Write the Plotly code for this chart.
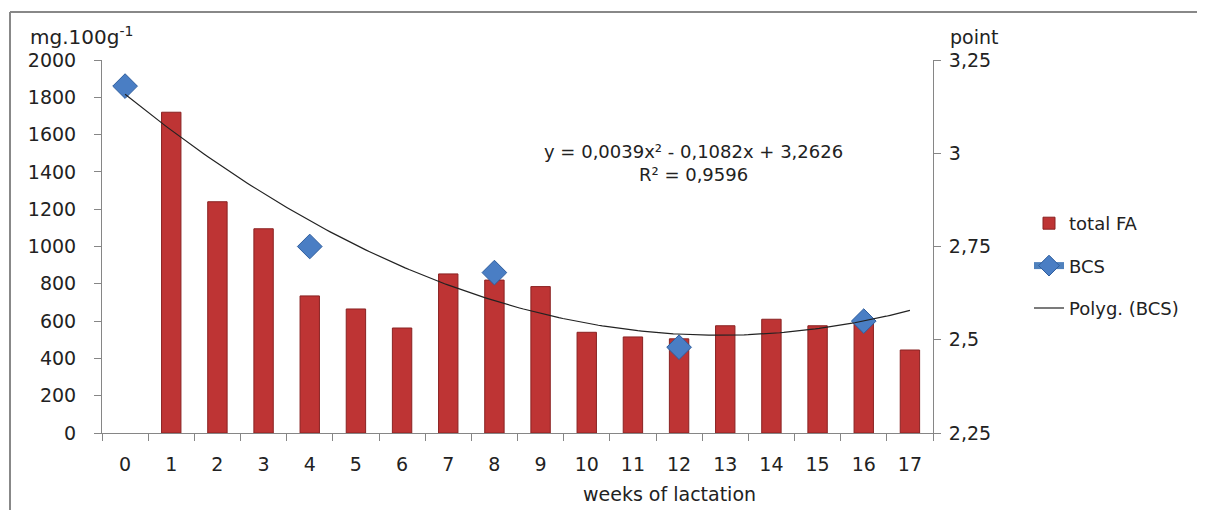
import numpy as np
import plotly.graph_objects as go

weeks = list(range(18))
week_labels = [str(w) for w in weeks]
total_fa = [None, 1720, 1240, 1095, 735, 665, 563, 853, 820, 785, 540, 515, 505, 575, 610, 575, 600, 445]
bcs = [3.18, None, None, None, 2.75, None, None, None, 2.68, None, None, None, 2.48, None, None, None, 2.55, None]
trend_coef = [0.0039, -0.1082, 3.2626]  # y = a x^2 + b x + c, x = category index (1-based)
left_ticks = [0, 200, 400, 600, 800, 1000, 1200, 1400, 1600, 1800, 2000]
right_ticks = [2.25, 2.5, 2.75, 3.0, 3.25]
right_tick_labels = ["2,25", "2,5", "2,75", "3", "3,25"]

FONT = "DejaVu Sans, sans-serif"
OFF = 8  # page body margin
W, H = 1205 - OFF, 510 - OFF
ML, MR, MT, MB = 102 - OFF, 272, 60 - OFF, 77
PW, PH = W - ML - MR, H - MT - MB

def px(x):  # reference page pixel -> paper
    return (x - 102) / PW

def py(y):
    return (433 - y) / PH

tx = np.linspace(0, 17, 200)
ty = np.polyval(trend_coef, tx + 1)

fig = go.Figure()
fig.add_trace(go.Bar(
    x=weeks, y=total_fa, name="total FA", width=0.42,
    marker=dict(color="#BE3434", line=dict(color="#8A2222", width=1)),
    legendgroup="a",
))
fig.add_trace(go.Scatter(
    x=weeks, y=bcs, name="BCS", yaxis="y2", mode="lines+markers",
    connectgaps=False,
    line=dict(color="#4F81BD", width=7),
    marker=dict(symbol="diamond", size=19, color="#4A7EC4", line=dict(color="#2F5E9E", width=1)),
    legendgroup="b",
))
fig.add_trace(go.Scatter(
    x=tx, y=ty, name="Polyg. (BCS)", yaxis="y2", mode="lines",
    line=dict(color="#222222", width=1.2),
    legendgroup="c",
))

axis_col = "#868686"
fig.update_layout(
    width=W, height=H,
    margin=dict(l=ML, r=MR, t=MT, b=MB),
    paper_bgcolor="white", plot_bgcolor="white",
    font=dict(family=FONT, size=19, color="#222222"),
    showlegend=True,
    legend=dict(x=px(1029), y=py(205), xanchor="left", yanchor="top",
                traceorder="grouped", tracegroupgap=16,
                font=dict(size=18), bgcolor="rgba(0,0,0,0)"),
    xaxis=dict(
        range=[-0.5, 17.5], tickmode="array", tickvals=weeks, ticktext=week_labels,
        ticks="", showgrid=False, zeroline=False,
        showline=True, linecolor=axis_col, linewidth=1,
        ticklabelstandoff=14,
        minor=dict(tickvals=[w - 0.5 for w in range(19)], ticks="outside",
                   ticklen=7, tickcolor=axis_col, showgrid=False),
    ),
    yaxis=dict(
        range=[0, 2000], tickmode="array", tickvals=left_ticks,
        ticks="outside", ticklen=7, tickcolor=axis_col,
        showline=True, linecolor=axis_col, linewidth=1,
        showgrid=False, zeroline=False, ticklabelstandoff=14,
    ),
    yaxis2=dict(
        range=[2.25, 3.25], overlaying="y", side="right",
        tickmode="array", tickvals=right_ticks, ticktext=right_tick_labels,
        ticks="outside", ticklen=7, tickcolor=axis_col,
        showline=True, linecolor=axis_col, linewidth=1,
        showgrid=False, zeroline=False, ticklabelstandoff=4,
    ),
    annotations=[
        dict(text="mg.100g<sup>-1</sup>", x=px(28), y=py(36), xref="paper", yref="paper",
             xanchor="left", yanchor="middle", showarrow=False, font=dict(size=20)),
        dict(text="point", x=px(974), y=py(37), xref="paper", yref="paper",
             xanchor="center", yanchor="middle", showarrow=False, font=dict(size=19)),
        dict(text="weeks of lactation", x=px(669), y=py(494), xref="paper", yref="paper",
             xanchor="center", yanchor="middle", showarrow=False, font=dict(size=19)),
        dict(text="y = 0,0039x² - 0,1082x + 3,2626<br>R² = 0,9596", x=px(693), y=py(163),
             xref="paper", yref="paper", xanchor="center", yanchor="middle",
             showarrow=False, align="center", font=dict(size=18)),
    ],
    shapes=[
        dict(type="line", xref="paper", yref="paper", x0=px(10), x1=px(1205), y0=py(12), y1=py(12),
             line=dict(color="#888888", width=2)),
        dict(type="line", xref="paper", yref="paper", x0=px(10), x1=px(10), y0=py(12), y1=py(510),
             line=dict(color="#888888", width=2)),
    ],
)

fig.write_html("out.html")
